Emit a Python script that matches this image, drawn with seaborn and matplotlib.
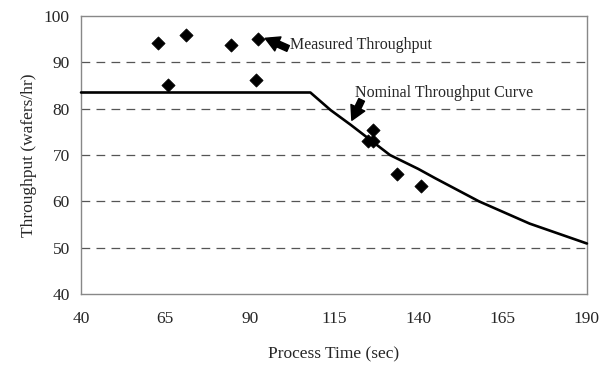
import matplotlib
matplotlib.use("Agg")
import pandas as pd
from matplotlib import pyplot as plt
import seaborn as sns

# nominal throughput curve
curve_time = [40, 108, 114, 120, 131.6, 140, 145, 158, 173, 190]
curve_tput = [83.5, 83.5, 79.7, 76.5, 70.0, 67.0, 65.0, 60.0, 55.2, 50.9]

# measured throughput points
meas_time = [62.9, 65.9, 71.1, 84.5, 91.9, 92.6, 126.5, 125.2, 126.5, 133.8, 140.8]
meas_tput = [94.2, 85.2, 96.0, 93.7, 86.1, 95.0, 75.5, 73.1, 73.1, 65.9, 63.4]

x_ticks = [40, 65, 90, 115, 140, 165, 190]
y_ticks = [40, 50, 60, 70, 80, 90, 100]

curve = pd.DataFrame({"time": curve_time, "tput": curve_tput})
meas = pd.DataFrame({"time": meas_time, "tput": meas_tput})

sns.set_style("white")
plt.rcParams["font.family"] = ["Liberation Serif", "DejaVu Serif"]

fig = plt.figure(figsize=(6.11, 3.65), dpi=100)
ax = fig.add_axes([0.1326, 0.1945, 0.828, 0.7615])

# dashed grid lines at the inner y ticks
for y in y_ticks[1:-1]:
    ax.axhline(y, color="#555555", lw=0.9, ls=(0, (7, 5)), zorder=0)

sns.lineplot(data=curve, x="time", y="tput", ax=ax, color="black", lw=1.9,
             clip_on=False, zorder=3)
sns.scatterplot(data=meas, x="time", y="tput", ax=ax, marker="D", color="black",
                s=45, edgecolor="black", zorder=4)

ax.set_xlim(40, 190)
ax.set_ylim(40, 100)
ax.set_xticks(x_ticks)
ax.set_yticks(y_ticks)
ax.tick_params(axis="x", direction="in", length=5, color="#777777", labelsize=12.5, pad=12)
ax.tick_params(axis="y", length=0, labelsize=12.5, pad=8)
for s in ax.spines.values():
    s.set_color("#888888")
    s.set_linewidth(1.0)

ax.set_xlabel("Process Time (sec)", fontsize=12.5, labelpad=14)
ax.set_ylabel("Throughput (wafers/hr)", fontsize=12.5, labelpad=5)

# annotations: text and fat arrows drawn separately
arrow = dict(arrowstyle="simple,head_length=1.0,head_width=1.1,tail_width=0.45",
             color="black", shrinkA=0, shrinkB=0)
ax.text(101.9, 93.7, "Measured Throughput", fontsize=11.5, va="center", ha="left")
ax.annotate("", xy=(94.6, 95.2), xytext=(101.4, 93.0), arrowprops=arrow)
ax.text(121.3, 83.4, "Nominal Throughput Curve", fontsize=11.5, va="center", ha="left")
ax.annotate("", xy=(120.3, 77.5), xytext=(123.2, 81.9), arrowprops=arrow)

fig.savefig("out.png", dpi=100)
